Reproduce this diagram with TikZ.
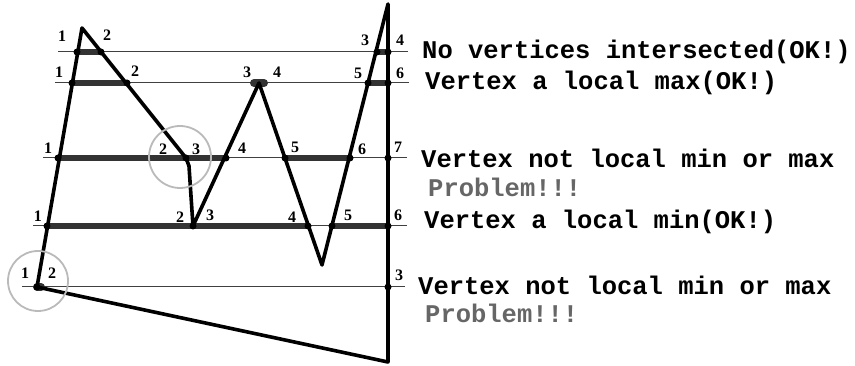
\documentclass[tikz,border=0pt]{standalone}
\usepackage{fontspec}
\newfontfamily\monob{Liberation Mono}[BoldFont={Liberation Mono Bold}]
\newfontfamily\numf{Liberation Serif}
\begin{document}
\begin{tikzpicture}[x=1pt,y=-1pt,
  edge/.style={line width=3.6pt,line join=round,line cap=round,black},
  scan/.style={line width=1pt,black!75},
  bar/.style={line width=6pt,line cap=round,black!80},
  ring/.style={line width=1.8pt,black!27},
  vdot/.style={circle,fill=black,inner sep=0pt,minimum size=7pt},
  num/.style={font=\numf\bfseries\fontsize{16}{16}\selectfont,inner sep=0pt},
  msg/.style={font=\monob\bfseries\fontsize{25.5}{25.5}\selectfont,anchor=west,inner sep=0pt},
  prob/.style={msg,text=black!60}]
\useasboundingbox (0,0) rectangle (855,366);
% vertices
\coordinate (A) at (82,28);
\coordinate (B) at (186,158);
\coordinate (Bk) at (189,166);
\coordinate (C) at (193,226);
\coordinate (D) at (259,83);
\coordinate (E) at (322,265);
\coordinate (F) at (388,4);
\coordinate (G) at (388,362);
\coordinate (H) at (37,287);
% scan lines
\coordinate (s1a) at (58,52);  \coordinate (s1b) at (408,52);
\coordinate (s2a) at (55,83);  \coordinate (s2b) at (409,83);
\coordinate (s3a) at (43,158); \coordinate (s3b) at (407,158);
\coordinate (s4a) at (33,226); \coordinate (s4b) at (407,226);
\coordinate (s5a) at (22,287); \coordinate (s5b) at (405,287);
\draw[scan] (s1a) -- (s1b);
\draw[scan] (s2a) -- (s2b);
\draw[scan] (s3a) -- (s3b);
\draw[scan] (s4a) -- (s4b);
\draw[scan] (s5a) -- (s5b);
% interior spans
\coordinate (p11) at (77,52);  \coordinate (p12) at (101,52);
\coordinate (p13) at (377,52); \coordinate (p14) at (388,52);
\coordinate (p21) at (72,83);  \coordinate (p22) at (127,83);
\coordinate (p23) at (254,83); \coordinate (p24) at (264,83);
\coordinate (p25) at (368,83); \coordinate (p26) at (388,83);
\coordinate (p31) at (58,158); \coordinate (p32) at (186,158);
\coordinate (p34) at (226,158);
\coordinate (p35) at (285,158); \coordinate (p36) at (350,158);
\coordinate (p37) at (388,158);
\coordinate (p41) at (47,226); \coordinate (p42) at (193,226);
\coordinate (p44) at (308,226); \coordinate (p45) at (332,226);
\coordinate (p46) at (388,226);
\coordinate (p53) at (388,287);
\draw[bar] (p11) -- (p12);
\draw[bar] (p13) -- (p14);
\draw[bar] (p21) -- (p22);
\draw[bar,line width=8pt] (p23) -- (p24);
\draw[bar] (p25) -- (p26);
\draw[bar] (p31) -- (p32) -- (p34);
\draw[bar] (p35) -- (p36);
\draw[bar] (p41) -- (p42) -- (p44);
\draw[bar] (p45) -- (p46);
\draw[bar,line width=8pt] (H) -- ++(4,0);
% polygon
\draw[edge] (A) -- (B) -- (Bk) -- (C) -- (D) -- (E) -- (F) -- (G) -- (H) -- cycle;
% crossing dots
\foreach \p in {p11,p12,p13,p14,p21,p22,p25,p26,p31,p32,p34,p35,p36,p37,p41,p42,p44,p45,p46,p53}
  \node[vdot] at (\p) {};
\node[vdot] at (H) {};
% circles
\draw[ring] (180,157) circle (31);
\draw[ring] (38,281) circle (30);
% numbers
\node[num] (l11) at (62,36) {1};  \node[num] (l12) at (107,35) {2};
\node[num] (l13) at (365,40) {3}; \node[num] (l14) at (400,40) {4};
\node[num] (l21) at (59,72) {1};  \node[num] (l22) at (135,71) {2};
\node[num] (l23) at (247,72) {3}; \node[num] (l24) at (277,72) {4};
\node[num] (l25) at (358,73) {5}; \node[num] (l26) at (400,73) {6};
\node[num] (l31) at (48,148) {1}; \node[num] (l32) at (163,149) {2};
\node[num] (l33) at (196,149) {3}; \node[num] (l34) at (242,148) {4};
\node[num] (l35) at (295,147) {5}; \node[num] (l36) at (362,149) {6};
\node[num] (l37) at (398,147) {7};
\node[num] (l41) at (38,216) {1}; \node[num] (l42) at (180,217) {2};
\node[num] (l43) at (210,215) {3}; \node[num] (l44) at (292,217) {4};
\node[num] (l45) at (348,215) {5}; \node[num] (l46) at (398,215) {6};
\node[num] (l51) at (25,273) {1}; \node[num] (l52) at (52,273) {2};
\node[num] (l53) at (399,275) {3};
% messages
\node[msg] (m1) at (422,52) {No vertices intersected(OK!)};
\node[msg] (m2) at (425,83) {Vertex a local max(OK!)};
\node[msg] (m3) at (421,158) {Vertex not local min or max};
\node[prob] (m3p) at (428,187) {Problem!!!};
\node[msg] (m4) at (424,222) {Vertex a local min(OK!)};
\node[msg] (m5) at (418,285) {Vertex not local min or max};
\node[prob] (m5p) at (425,313) {Problem!!!};
\end{tikzpicture}
\end{document}
